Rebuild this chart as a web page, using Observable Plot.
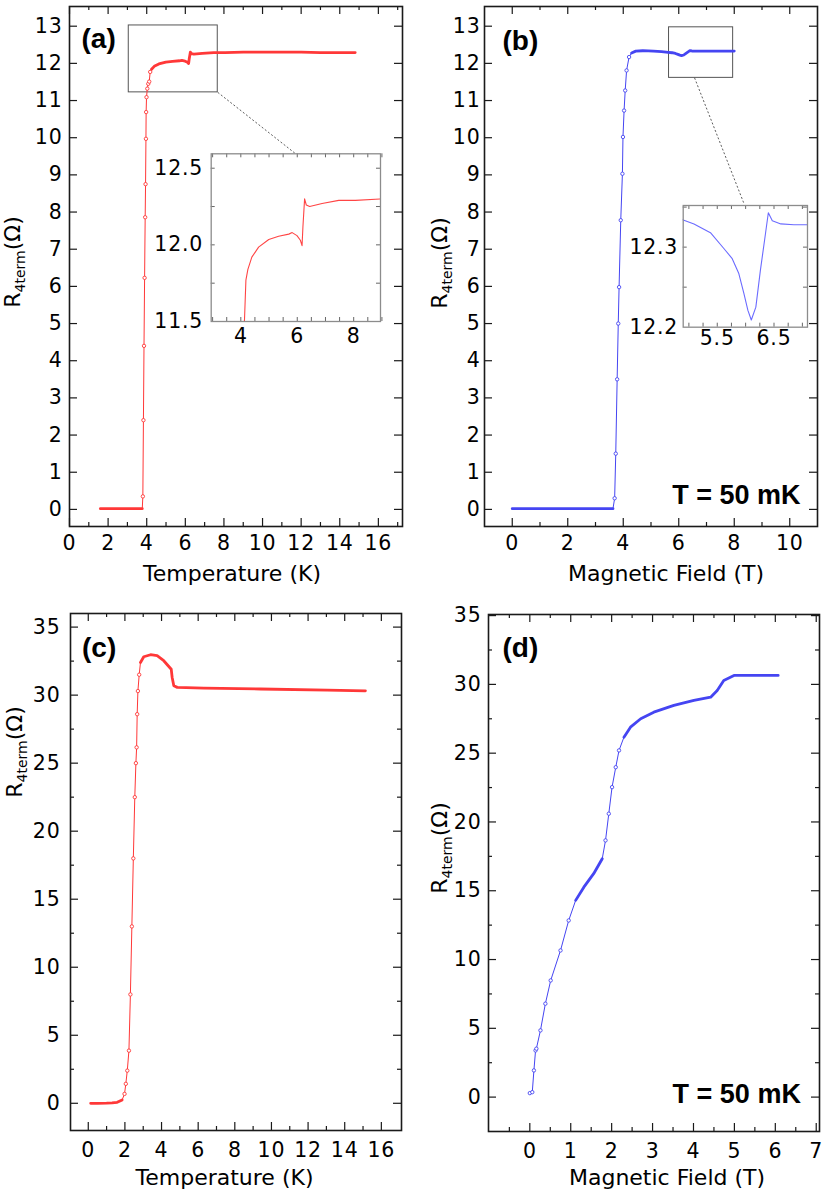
<!DOCTYPE html>
<html><head><meta charset="utf-8">
<script src="https://cdn.jsdelivr.net/npm/d3@7"></script>
<script src="https://cdn.jsdelivr.net/npm/@observablehq/plot@0.6"></script>
<style>
body{margin:0;background:#fff;}
#root{position:relative;width:830px;height:1198px;overflow:hidden;background:#fff;}
</style></head><body><div id="root"></div>
<script>
// ---------- data ----------
// (a) resistance vs temperature
const aTemp = [1.6, 2.2, 2.8, 3.4, 3.77, 3.80, 3.83, 3.86, 3.89, 3.92, 3.94, 3.96, 3.97, 3.99, 4.03, 4.08, 4.13, 4.18, 4.25, 4.39, 4.63, 4.99, 5.34, 5.70, 5.82, 5.99, 6.11, 6.17, 6.20, 6.26, 6.32, 6.44, 6.88, 7.47, 8.06, 9.0, 10.0, 11.0, 12.0, 13.0, 14.0, 14.8];
const aRes  = [0.02, 0.02, 0.02, 0.02, 0.02, 0.35, 2.4, 4.4, 6.23, 7.86, 8.75, 9.97, 10.69, 11.09, 11.32, 11.45, 11.51, 11.77, 11.84, 11.92, 11.985, 12.035, 12.056, 12.07, 12.08, 12.06, 12.03, 11.995, 12.115, 12.30, 12.26, 12.25, 12.27, 12.29, 12.29, 12.30, 12.30, 12.30, 12.30, 12.29, 12.29, 12.29];
// (b) resistance vs magnetic field, T = 50 mK
const bField = [0, 0.8, 1.6, 2.4, 3.2, 3.63, 3.69, 3.73, 3.78, 3.82, 3.85, 3.91, 3.97, 3.99, 4.03, 4.07, 4.12, 4.21, 4.30, 4.45, 4.70, 4.90, 5.09, 5.38, 5.62, 5.76, 5.88, 5.97, 6.04, 6.10, 6.18, 6.26, 6.35, 6.40, 6.47, 6.62, 6.85, 7.09, 7.5, 8.0];
const bRes   = [0.02, 0.02, 0.02, 0.02, 0.02, 0.02, 0.3, 1.5, 3.5, 5.0, 5.98, 7.78, 9.03, 10.02, 10.73, 11.27, 11.81, 12.17, 12.28, 12.33, 12.34, 12.334, 12.329, 12.318, 12.298, 12.286, 12.267, 12.242, 12.221, 12.209, 12.225, 12.271, 12.317, 12.343, 12.333, 12.329, 12.328, 12.328, 12.328, 12.33];
// (c) resistance vs temperature
const cTemp = [0.13, 0.5, 1.0, 1.3, 1.58, 1.85, 1.98, 2.05, 2.13, 2.22, 2.30, 2.38, 2.46, 2.54, 2.60, 2.64, 2.67, 2.71, 2.78, 2.85, 3.03, 3.40, 3.76, 4.12, 4.53, 4.58, 4.67, 4.86, 6.31, 9.40, 13.04, 15.13];
const cRes  = [0, 0, 0.01, 0.03, 0.07, 0.25, 0.69, 1.43, 2.4, 3.87, 8.0, 13.0, 18.0, 22.5, 25.0, 26.16, 28.6, 30.3, 31.5, 32.4, 32.82, 32.97, 32.9, 32.53, 31.9, 31.3, 30.69, 30.57, 30.52, 30.45, 30.37, 30.32];
// (d) resistance vs magnetic field, T = 50 mK
const dField = [0.0, 0.06, 0.10, 0.14, 0.16, 0.26, 0.38, 0.51, 0.75, 0.95, 1.12, 1.32, 1.56, 1.77, 1.85, 1.93, 2.01, 2.10, 2.18, 2.30, 2.46, 2.71, 3.03, 3.52, 4.01, 4.42, 4.58, 4.74, 4.99, 6.07];
const dRes   = [0.29, 0.36, 1.94, 3.39, 3.52, 4.85, 6.79, 8.48, 10.66, 12.84, 14.30, 15.26, 16.24, 17.33, 18.66, 20.6, 22.53, 23.98, 25.2, 26.16, 26.89, 27.5, 27.98, 28.47, 28.83, 29.07, 29.56, 30.28, 30.65, 30.65];

// tick labels
const aXLabels = [0, 2, 4, 6, 8, 10, 12, 14, 16];
const abYLabels = [0, 1, 2, 3, 4, 5, 6, 7, 8, 9, 10, 11, 12, 13];
const bXLabels = [0, 2, 4, 6, 8, 10];
const cXLabels = [0, 2, 4, 6, 8, 10, 12, 14, 16];
const cdYLabels = [0, 5, 10, 15, 20, 25, 30, 35];
const dXLabels = [0, 1, 2, 3, 4, 5, 6, 7];
const insetAXLabels = [4, 6, 8];
const insetAYLabels = [11.5, 12.0, 12.5];
const insetBXLabels = [5.5, 6.5];
const insetBYLabels = [12.2, 12.3];

// zoom boxes and connectors (data units of the main panels)
const zoomBoxA = [{x1: 3.07, x2: 7.68, y1: 11.22, y2: 13.02}];
const zoomLinkA = [{x1: 7.68, y1: 11.22, x2: 11.71, y2: 9.57}];
const zoomBoxB = [{x1: 5.65, x2: 7.96, y1: 11.61, y2: 12.97}];
const zoomLinkB = [{x1: 6.57, y1: 11.61, x2: 8.36, y2: 8.21}];

const panelLabels = ["(a)", "(b)", "(c)", "(d)"];
const tempTitle = "Temperature (K)";
const fieldTitle = "Magnetic Field (T)";
const tempNote = "T = 50 mK";

// ---------- helpers ----------
const zip = (xs, ys) => xs.map((x, i) => ({x, y: ys[i]}));
const A = zip(aTemp, aRes), B = zip(bField, bRes), C = zip(cTemp, cRes), D = zip(dField, dRes);
const RED = "#ff3838", BLUE = "#4545f2";
const FONT = "DejaVu Sans";
const BOLD = "Liberation Sans";
const TICKFS = 20.5;
const root = document.getElementById("root");

function panel(c) {
  const fw = c.width - c.ml - c.mr, fh = c.height - c.mt - c.mb;
  const tickCol = c.tickColor || "#1a1a1a";
  const tw = c.tickWidth || 1.2;
  const marks = [];
  if (c.frameFill) marks.push(Plot.frame({fill: c.frameFill, stroke: null}));
  marks.push(...(c.under || []));
  const xs = [[c.xMajor, c.majorLen], [c.xMinor, c.minorLen]];
  const ys = [[c.yMajor, c.majorLen], [c.yMinor, c.minorLen]];
  for (const [t, len] of xs) {
    if (!t || !t.length) continue;
    marks.push(Plot.tickX(t, {x: d => d, insetTop: fh - len, stroke: tickCol, strokeWidth: tw}));
    marks.push(Plot.tickX(t, {x: d => d, insetBottom: fh - len, stroke: tickCol, strokeWidth: tw}));
  }
  for (const [t, len] of ys) {
    if (!t || !t.length) continue;
    marks.push(Plot.tickY(t, {y: d => d, insetRight: fw - len, stroke: tickCol, strokeWidth: tw}));
    marks.push(Plot.tickY(t, {y: d => d, insetLeft: fw - len, stroke: tickCol, strokeWidth: tw}));
  }
  marks.push(Plot.axisX({ticks: c.xLabels, tickSize: 0, tickPadding: c.xPad, tickFormat: c.xFmt || d3.format("d"), label: null, anchor: "bottom"}));
  marks.push(Plot.axisY({ticks: c.yLabels, tickSize: 0, tickPadding: c.yPad, tickFormat: c.yFmt || d3.format("d"), label: null, anchor: "left"}));
  marks.push(...(c.marks || []));
  marks.push(Plot.frame({stroke: c.frameColor || "#1a1a1a", strokeWidth: c.frameWidth || 1.6}));
  const svg = Plot.plot({
    width: c.width, height: c.height,
    marginLeft: c.ml, marginRight: c.mr, marginTop: c.mt, marginBottom: c.mb,
    x: {domain: c.xDomain}, y: {domain: c.yDomain},
    style: {fontFamily: FONT, fontSize: TICKFS + "px", color: "black", background: "transparent", overflow: "visible"},
    marks
  });
  svg.style.position = "absolute";
  svg.style.left = c.left + "px";
  svg.style.top = c.top + "px";
  root.appendChild(svg);
  // slightly wider tick labels, as in the original
  d3.select(svg).selectAll("g[aria-label='x-axis tick label'] text, g[aria-label='y-axis tick label'] text")
    .style("letter-spacing", "0.8px");
  if (c.yTitle) {
    const t = d3.select(svg).append("text")
      .attr("transform", `translate(${c.yTitle.x},${c.yTitle.y}) rotate(-90)`)
      .attr("text-anchor", "middle").attr("fill", "black")
      .style("font-family", FONT).style("font-size", "22px");
    t.append("tspan").text("R");
    t.append("tspan").attr("dy", 5).style("font-size", "14px").text("4term");
    t.append("tspan").attr("dy", -5).text("(Ω)");
  }
  return svg;
}

function dataMarks(data, color, thickRuns) {
  const thin = d => !thickRuns.some(f => f(d));
  const m = [
    Plot.line(data, {x: "x", y: "y", stroke: color, strokeWidth: 1}),
    Plot.dot(data, {x: "x", y: "y", filter: thin, r: 1.7, stroke: color, fill: "white", strokeWidth: 0.9})
  ];
  for (const f of thickRuns) m.push(Plot.line(data, {x: "x", y: "y", filter: f, stroke: color, strokeWidth: 2.8}));
  return m;
}

function panelLabel(txt, dx, dy) {
  return Plot.text([txt], {frameAnchor: "top-left", dx, dy, text: d => d, textAnchor: "start", lineAnchor: "bottom", fontFamily: BOLD, fontWeight: "bold", fontSize: 28, fill: "black"});
}
function xTitle(txt, dx, dy) {
  return Plot.text([txt], {frameAnchor: "bottom", dx, dy, text: d => d, textAnchor: "middle", lineAnchor: "bottom", fontFamily: FONT, fontSize: 22, fill: "black"});
}
function note(txt, dx, dy) {
  return Plot.text([txt], {frameAnchor: "bottom-right", dx, dy, text: d => d, textAnchor: "end", lineAnchor: "bottom", fontFamily: BOLD, fontWeight: "bold", fontSize: 27, fill: "black"});
}
function zoomMarks(box, link) {
  return [
    Plot.rect(box, {x1: "x1", x2: "x2", y1: "y1", y2: "y2", fill: "none", stroke: "#555", strokeWidth: 1}),
    Plot.link(link, {x1: "x1", y1: "y1", x2: "x2", y2: "y2", stroke: "#333", strokeWidth: 0.8, strokeDasharray: "2,2"})
  ];
}

// ---------- (a) ----------
panel({
  left: 0, top: 0, width: 415, height: 600, ml: 69, mr: 13, mt: 6, mb: 74,
  xDomain: [0, 17.25], yDomain: [-0.46, 13.53],
  xMajor: d3.range(0, 17, 2), xMinor: d3.range(1, 18, 2), yMajor: d3.range(0, 14, 1), yMinor: [],
  majorLen: 8, minorLen: 4,
  xLabels: aXLabels, yLabels: abYLabels, xPad: 9, yPad: 7,
  under: zoomMarks(zoomBoxA, zoomLinkA),
  marks: [
    ...dataMarks(A, RED, [d => d.x <= 3.77, d => d.x >= 4.2]),
    panelLabel(panelLabels[0], 12, 41.4),
    xTitle(tempTitle, -4, 54)
  ],
  yTitle: {x: 20, y: 262}
});
// inset (a)
panel({
  left: 150, top: 148, width: 235, height: 208, ml: 60.7, mr: 5, mt: 5.3, mb: 35,
  xDomain: [2.95, 8.95], yDomain: [11.5, 12.594],
  xMajor: d3.range(3, 9.01, 0.5), xMinor: [], yMajor: d3.range(11.75, 12.6, 0.25), yMinor: [],
  majorLen: 4, minorLen: 3, tickColor: "#666", tickWidth: 1,
  frameFill: "white", frameColor: "#8c8c8c", frameWidth: 1.3,
  xLabels: insetAXLabels, yLabels: insetAYLabels, xPad: 7, yPad: 8, xFmt: d3.format("d"), yFmt: d3.format(".1f"),
  marks: [Plot.line(A, {x: "x", y: "y", stroke: "#ff4545", strokeWidth: 1.1, clip: true})]
});

// ---------- (b) ----------
panel({
  left: 415, top: 0, width: 415, height: 600, ml: 69, mr: 13, mt: 6, mb: 74,
  xDomain: [-1, 11], yDomain: [-0.46, 13.53],
  xMajor: d3.range(0, 11, 2), xMinor: d3.range(1, 10, 2), yMajor: d3.range(0, 14, 1), yMinor: [],
  majorLen: 8, minorLen: 4,
  xLabels: bXLabels, yLabels: abYLabels, xPad: 9, yPad: 4,
  under: zoomMarks(zoomBoxB, zoomLinkB),
  marks: [
    ...dataMarks(B, BLUE, [d => d.x <= 3.63, d => d.x >= 4.3]),
    panelLabel(panelLabels[1], 18, 43),
    xTitle(fieldTitle, 15, 54),
    note(tempNote, -17, -23)
  ],
  yTitle: {x: 31.7, y: 263}
});
// inset (b)
panel({
  left: 622, top: 200, width: 190, height: 156.7, ml: 60.7, mr: 5, mt: 5, mb: 30,
  xDomain: [4.9, 7.09], yDomain: [12.2, 12.352],
  xMajor: d3.range(5, 7.01, 0.25), xMinor: [], yMajor: [12.25, 12.3, 12.35], yMinor: [],
  majorLen: 4, minorLen: 3, tickColor: "#666", tickWidth: 1,
  frameFill: "white", frameColor: "#8c8c8c", frameWidth: 1.3,
  xLabels: insetBXLabels, yLabels: insetBYLabels, xPad: 3, yPad: 5, xFmt: d3.format(".1f"), yFmt: d3.format(".1f"),
  marks: [Plot.line(B, {x: "x", y: "y", stroke: "#6b6bff", strokeWidth: 1.1, clip: true})]
});

// ---------- (c) ----------
panel({
  left: 0, top: 600, width: 415, height: 598, ml: 70, mr: 14, mt: 13, mb: 68,
  xDomain: [-0.97, 17.1], yDomain: [-2, 36],
  xMajor: d3.range(0, 17, 2), xMinor: d3.range(1, 16, 2), yMajor: d3.range(0, 36, 5), yMinor: d3.range(2.5, 35, 5),
  majorLen: 8, minorLen: 4,
  xLabels: cXLabels, yLabels: cdYLabels, xPad: 12, yPad: 10,
  marks: [
    ...dataMarks(C, RED, [d => d.x <= 1.85, d => d.x >= 2.85]),
    panelLabel(panelLabels[2], 11.5, 43.5),
    xTitle(tempTitle, -11.5, 54)
  ],
  yTitle: {x: 22, y: 152}
});

// ---------- (d) ----------
panel({
  left: 415, top: 600, width: 415, height: 598, ml: 73, mr: 11, mt: 14, mb: 67,
  xDomain: [-1.01, 7.08], yDomain: [-2.5, 35.08],
  xMajor: d3.range(0, 7.01, 1), xMinor: d3.range(-0.5, 7, 1), yMajor: d3.range(0, 36, 5), yMinor: d3.range(2.5, 35, 5),
  majorLen: 8, minorLen: 4,
  xLabels: dXLabels, yLabels: cdYLabels, xPad: 12, yPad: 7,
  marks: [
    ...dataMarks(D, BLUE, [d => d.x >= 1.12 && d.x <= 1.77, d => d.x >= 2.30]),
    panelLabel(panelLabels[3], 14, 42.8),
    xTitle(fieldTitle, 13, 53),
    note(tempNote, -18.6, -28.7)
  ],
  yTitle: {x: 32, y: 248}
});
</script>
</body></html>
